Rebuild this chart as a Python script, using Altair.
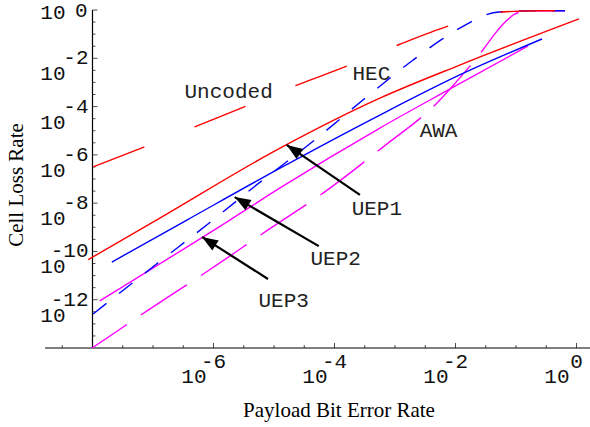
import math
import altair as alt
import pandas as pd

# ---------------- data (log10 values) ----------------
# Uncoded (red, long dashes)
uncoded_x = [-7.99, -7.15, -6.32, -5.46, -4.62, -3.79, -2.95, -2.11, -1.23, -0.60, -0.16]
uncoded_y = [-6.50, -5.68, -4.85, -3.98, -3.11, -2.32, -1.45, -0.66, -0.08, -0.03, -0.03]
# UEP1 (red solid)
uep1_x = [-8.07, -6.93, -4.90, -3.25, -1.93, 0.04]
uep1_y = [-10.34, -8.68, -5.72, -3.65, -2.28, -0.37]
# UEP2 (blue solid)
uep2_x = [-7.68, -6.44, -4.90, -3.25, -1.93, -0.57]
uep2_y = [-10.44, -8.70, -6.55, -4.35, -2.69, -1.20]
# UEP3 (magenta solid)
uep3_x = [-7.88, -5.73, -4.90, -3.25, -2.09, -0.80]
uep3_y = [-12.05, -8.70, -7.37, -4.89, -3.27, -1.49]
# HEC (blue, short dashes)
hec_x = [-7.99, -6.92, -6.07, -5.23, -4.37, -3.53, -2.70, -2.24, -1.78, -1.55, -1.28, -0.60, -0.19]
hec_y = [-12.59, -10.48, -8.82, -7.13, -5.47, -3.73, -2.07, -1.24, -0.54, -0.25, -0.08, -0.03, -0.03]
# AWA (magenta, long dashes)
awa_x = [-8.19, -8.01, -7.08, -6.07, -5.10, -4.12, -3.20, -2.29, -2.09, -1.51, -1.35, -1.18, -1.02, -0.82, -0.19]
awa_y = [-14.29, -14.00, -12.43, -10.77, -9.11, -7.46, -5.68, -3.81, -3.27, -1.53, -0.99, -0.50, -0.17, -0.04, -0.03]

# annotation labels (log10 positions)
label_text = ["Uncoded", "HEC", "AWA", "UEP1", "UEP2", "UEP3"]
label_x = [-5.75, -3.39, -2.28, -3.30, -3.98, -4.84]
label_y = [-3.65, -2.90, -5.26, -8.49, -10.56, -12.30]

# arrows: tail -> tip (log10)
arrow_tail_x = [-3.58, -4.26, -5.10]
arrow_tail_y = [-7.66, -9.78, -11.14]
arrow_tip_x = [-4.79, -5.65, -6.19]
arrow_tip_y = [-5.59, -7.75, -9.40]

# axes
x_range = [-8.785, 0.223]
y_range = [-14.0, 0.0]
x_major = [-6, -4, -2, 0]
x_minor = [-8.5, -7.5, -7, -6.5, -5.5, -5, -4.5, -3.5, -3, -2.5, -1.5, -1, -0.5]
y_major_top = [0]
y_major = [-2, -4, -6, -8, -10, -12]
y_minor = [-0.5, -1, -1.5, -2.5, -3, -3.5, -4.5, -5, -5.5, -6.5, -7, -7.5,
           -8.5, -9, -9.5, -10.5, -11, -11.5, -12.5, -13, -13.5]
x_title = "Payload Bit Error Rate"
y_title = "Cell Loss Rate"

# ---------------- chart ----------------
W, H = 545, 338
xs = alt.Scale(type="log", domain=[10 ** x_range[0], 10 ** x_range[1]], nice=False)
ys = alt.Scale(type="log", domain=[10 ** y_range[0], 10 ** y_range[1]], nice=False)
MONO = "Liberation Mono, Courier New, monospace"
SERIF = "Liberation Serif, Times New Roman, serif"


def X(field):
    return alt.X(field, type="quantitative", scale=xs, axis=None)


def Y(field):
    return alt.Y(field, type="quantitative", scale=ys, axis=None)


def curve(xl, yl, color, dash=None, clip=False):
    df = pd.DataFrame({"ber": [10 ** v for v in xl], "clr": [10 ** v for v in yl],
                       "i": list(range(len(xl)))})
    kw = dict(color=color, strokeWidth=1.4, clip=clip, interpolate="monotone")
    if dash:
        kw["strokeDash"] = dash
    return alt.Chart(df).mark_line(**kw).encode(x=X("ber"), y=Y("clr"), order="i:Q")


# axis lines
xaxis_df = pd.DataFrame({"x1": [10 ** x_range[0]], "x2": [10 ** x_range[1]], "y": [10 ** y_range[0]]})
xaxis_line = alt.Chart(xaxis_df).mark_rule(color="black", strokeWidth=1.2).encode(
    x=X("x1"), x2="x2:Q", y=Y("y"))
yaxis_df = pd.DataFrame({"x": [1e-8], "y1": [10 ** y_range[0]], "y2": [10 ** y_range[1]]})
yaxis_line = alt.Chart(yaxis_df).mark_rule(color="black", strokeWidth=1.2).encode(
    x=X("x"), y=Y("y1"), y2="y2:Q")

xt_major = pd.DataFrame({"ber": [10 ** v for v in x_major], "clr": 1e-14})
xt_minor = pd.DataFrame({"ber": [10 ** v for v in x_minor], "clr": 1e-14})
yt_major = pd.DataFrame({"ber": 1e-8, "clr": [10 ** v for v in y_major_top + y_major]})
yt_minor = pd.DataFrame({"ber": 1e-8, "clr": [10 ** v for v in y_minor]})

xtick_major = alt.Chart(xt_major).mark_tick(orient="vertical", size=5, thickness=1, yOffset=-2.5,
                                            color="black").encode(x=X("ber"), y=Y("clr"))
xtick_minor = alt.Chart(xt_minor).mark_tick(orient="vertical", size=3, thickness=1, yOffset=-1.5,
                                            color="black").encode(x=X("ber"), y=Y("clr"))
ytick_major = alt.Chart(yt_major).mark_tick(orient="horizontal", size=5, thickness=1, xOffset=2.5,
                                            color="black").encode(x=X("ber"), y=Y("clr"))
ytick_minor = alt.Chart(yt_minor).mark_tick(orient="horizontal", size=3, thickness=1, xOffset=1.5,
                                            color="black").encode(x=X("ber"), y=Y("clr"))

# tick labels: "10" with exponent
tick_font = dict(font=MONO, fontSize=21, color="#111111", baseline="alphabetic")
xl_df = pd.DataFrame({"ber": [10 ** v for v in x_major], "clr": 1e-14,
                      "exp": [str(v) for v in x_major], "base": "10"})
yl_df = pd.DataFrame({"ber": 1e-8, "clr": [10 ** v for v in y_major],
                      "exp": [str(v) for v in y_major], "base": "10"})
yl_top = pd.DataFrame({"ber": 1e-8, "clr": [10 ** v for v in y_major_top],
                       "exp": [str(v) for v in y_major_top], "base": "10"})
x_exp = alt.Chart(xl_df).mark_text(align="center", dy=20, **tick_font).encode(
    x=X("ber"), y=Y("clr"), text="exp:N")
x_base = alt.Chart(xl_df).mark_text(align="right", dx=-7, dy=35, **tick_font).encode(
    x=X("ber"), y=Y("clr"), text="base:N")
y_exp = alt.Chart(yl_df).mark_text(align="right", dx=-4, dy=6, **tick_font).encode(
    x=X("ber"), y=Y("clr"), text="exp:N")
y_base = alt.Chart(yl_df).mark_text(align="right", dx=-27, dy=22, **tick_font).encode(
    x=X("ber"), y=Y("clr"), text="base:N")
y_exp_top = alt.Chart(yl_top).mark_text(align="right", dx=-5, dy=7, **tick_font).encode(
    x=X("ber"), y=Y("clr"), text="exp:N")
y_base_top = alt.Chart(yl_top).mark_text(align="right", dx=-27, dy=9, **tick_font).encode(
    x=X("ber"), y=Y("clr"), text="base:N")

# axis titles
title_font = dict(font=SERIF, fontSize=21, color="black", baseline="alphabetic", align="center")
xtitle = alt.Chart(pd.DataFrame({"t": [x_title]})).mark_text(**title_font).encode(
    x=alt.value(294), y=alt.value(407), text="t:N")
ytitle = alt.Chart(pd.DataFrame({"t": [y_title]})).mark_text(angle=270, **title_font).encode(
    x=alt.value(-22), y=alt.value(175), text="t:N")

# curves
layers_curves = [
    curve(awa_x, awa_y, "#ff00ff", dash=[55, 17], clip=True),
    curve(uep3_x, uep3_y, "#ff00ff"),
    curve(hec_x, hec_y, "#0000ff", dash=[17, 16]),
    curve(uep2_x, uep2_y, "#0000ff"),
    curve(uncoded_x, uncoded_y, "#ff0000", dash=[55, 54]),
    curve(uep1_x, uep1_y, "#ff0000"),
]

# annotation labels
lab_df = pd.DataFrame({"ber": [10 ** v for v in label_x], "clr": [10 ** v for v in label_y],
                       "t": label_text})
labels = alt.Chart(lab_df).mark_text(font=MONO, fontSize=21, color="#222222", align="center",
                                     baseline="alphabetic").encode(x=X("ber"), y=Y("clr"), text="t:N")

# arrows
px_per_dec_x = W / (x_range[1] - x_range[0])
px_per_dec_y = H / (y_range[1] - y_range[0])
angles = []
for tx, ty, hx, hy in zip(arrow_tail_x, arrow_tail_y, arrow_tip_x, arrow_tip_y):
    dxp = (hx - tx) * px_per_dec_x
    dyp = -(hy - ty) * px_per_dec_y
    angles.append(math.degrees(math.atan2(dxp, -dyp)) % 360)
arr_df = pd.DataFrame({
    "x1": [10 ** v for v in arrow_tail_x], "y1": [10 ** v for v in arrow_tail_y],
    "x2": [10 ** v for v in arrow_tip_x], "y2": [10 ** v for v in arrow_tip_y],
    "ang": angles,
})
arrow_lines = alt.Chart(arr_df).mark_rule(color="black", strokeWidth=2.2).encode(
    x=X("x1"), y=Y("y1"), x2="x2:Q", y2="y2:Q")
arrow_heads = alt.Chart(arr_df).mark_point(
    shape="M0,0L0.75,2L-0.75,2Z", filled=True, size=256, color="black", opacity=1, strokeWidth=0
).encode(x=X("x2"), y=Y("y2"), angle=alt.Angle("ang:Q", scale=None))

chart = alt.layer(
    xaxis_line, yaxis_line, xtick_major, xtick_minor, ytick_major, ytick_minor,
    x_exp, x_base, y_exp, y_base, y_exp_top, y_base_top, xtitle, ytitle,
    *layers_curves,
    arrow_lines, arrow_heads, labels,
).properties(
    width=W, height=H,
    padding={"left": 45, "top": 10, "right": 0, "bottom": 79},
    autosize=alt.AutoSizeParams(type="none"),
    background="white",
).configure_view(stroke=None)

chart.save("out.html", embed_options={"renderer": "svg", "actions": False})
